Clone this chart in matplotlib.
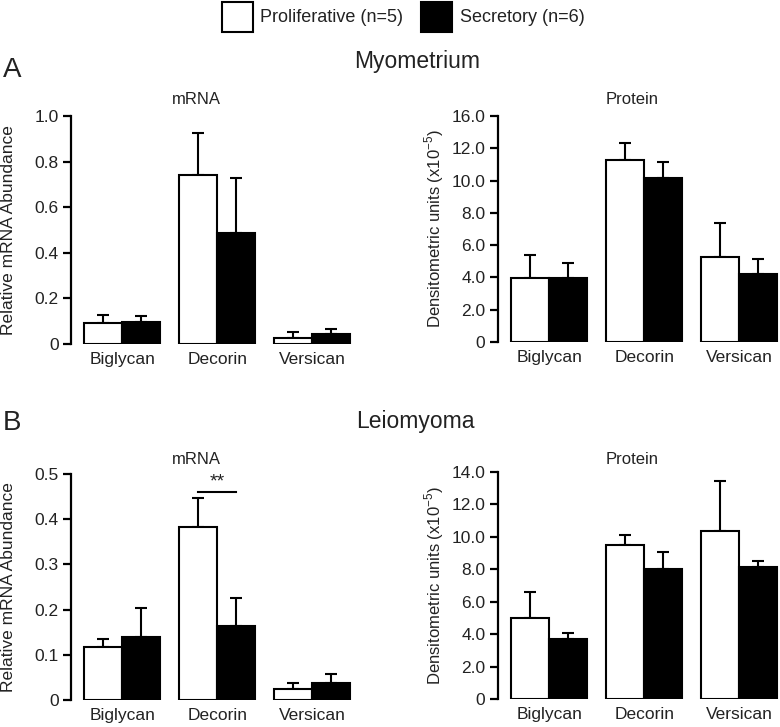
import matplotlib
matplotlib.use("Agg")
import matplotlib.pyplot as plt
from matplotlib.patches import Rectangle
import numpy as np

plt.rcParams['font.family'] = ['Liberation Sans', 'DejaVu Sans']
plt.rcParams['mathtext.fontset'] = 'custom'
plt.rcParams['mathtext.rm'] = 'Liberation Sans'
plt.rcParams['text.color'] = '#222222'

genes = ["Biglycan", "Decorin", "Versican"]

# Myometrium
myo_mrna_pro = [0.094, 0.743, 0.026]
myo_mrna_pro_err = [0.032, 0.181, 0.025]
myo_mrna_sec = [0.098, 0.485, 0.044]
myo_mrna_sec_err = [0.025, 0.242, 0.023]

myo_prot_pro = [3.95, 11.26, 5.29]
myo_prot_pro_err = [1.44, 1.07, 2.06]
myo_prot_sec = [3.97, 10.19, 4.24]
myo_prot_sec_err = [0.93, 0.94, 0.92]

# Leiomyoma
lei_mrna_pro = [0.117, 0.382, 0.025]
lei_mrna_pro_err = [0.018, 0.064, 0.012]
lei_mrna_sec = [0.139, 0.163, 0.038]
lei_mrna_sec_err = [0.065, 0.062, 0.020]

lei_prot_pro = [4.97, 9.51, 10.35]
lei_prot_pro_err = [1.61, 0.59, 3.09]
lei_prot_sec = [3.67, 8.04, 8.16]
lei_prot_sec_err = [0.37, 1.03, 0.35]

mrna_ticks = [0, 0.2, 0.4, 0.6, 0.8, 1.0]
mrna_labels = ["0", "0.2", "0.4", "0.6", "0.8", "1.0"]
myo_prot_ticks = [0, 2, 4, 6, 8, 10, 12, 14]
myo_prot_labels = ["0", "2.0", "4.0", "6.0", "8.0", "10.0", "12.0", "16.0"]
lei_mrna_ticks = [0, 0.1, 0.2, 0.3, 0.4, 0.5]
lei_mrna_labels = ["0", "0.1", "0.2", "0.3", "0.4", "0.5"]
lei_prot_ticks = [0, 2, 4, 6, 8, 10, 12, 14]
lei_prot_labels = ["0", "2.0", "4.0", "6.0", "8.0", "10.0", "12.0", "14.0"]

W, H = 780, 727
fig = plt.figure(figsize=(7.8, 7.27), dpi=100)


def px_axes(l, r, top, bot):
    return fig.add_axes([l / W, 1 - bot / H, (r - l) / W, (bot - top) / H])


def panel(ax, pro, pro_err, sec, sec_err, ticks, labels):
    x = np.arange(len(genes))
    w = 0.4
    ax.bar(x - w / 2, pro, w, color='white', edgecolor='black', linewidth=1.5, zorder=3)
    ax.bar(x + w / 2, sec, w, color='black', edgecolor='black', linewidth=1.5, zorder=3)
    ax.errorbar(x - w / 2, pro, yerr=[np.zeros(3), pro_err], fmt='none', ecolor='black',
                elinewidth=1.5, capsize=4.5, capthick=1.5, zorder=2)
    ax.errorbar(x + w / 2, sec, yerr=[np.zeros(3), sec_err], fmt='none', ecolor='black',
                elinewidth=1.5, capsize=4.5, capthick=1.5, zorder=2)
    ax.set_xlim(-0.54, 2.44)
    ax.set_ylim(ticks[0], ticks[-1])
    ax.set_yticks(ticks)
    ax.set_yticklabels(labels)
    ax.set_xticks(x)
    ax.set_xticklabels(genes, fontsize=12.5)
    for s in ['top', 'right', 'bottom']:
        ax.spines[s].set_visible(False)
    ax.spines['left'].set_linewidth(1.6)
    ax.tick_params(axis='y', direction='out', length=6, width=1.6, labelsize=12.5,
                   labelcolor='#222222', pad=3)
    ax.tick_params(axis='x', length=0, pad=6, labelcolor='#222222')
    ax.patch.set_visible(False)


ax1 = px_axes(71, 354, 116, 344)
panel(ax1, myo_mrna_pro, myo_mrna_pro_err, myo_mrna_sec, myo_mrna_sec_err, mrna_ticks, mrna_labels)
ax2 = px_axes(498, 781, 116, 342)
panel(ax2, myo_prot_pro, myo_prot_pro_err, myo_prot_sec, myo_prot_sec_err, myo_prot_ticks, myo_prot_labels)
ax3 = px_axes(71, 354, 474, 700)
panel(ax3, lei_mrna_pro, lei_mrna_pro_err, lei_mrna_sec, lei_mrna_sec_err, lei_mrna_ticks, lei_mrna_labels)
ax4 = px_axes(498, 781, 472, 699)
panel(ax4, lei_prot_pro, lei_prot_pro_err, lei_prot_sec, lei_prot_sec_err, lei_prot_ticks, lei_prot_labels)

# significance marker on leiomyoma decorin
ax3.plot([0.8, 1.2], [0.46, 0.46], color='black', lw=1.5)
ax3.text(1.0, 0.463, "**", ha='center', va='bottom', fontsize=14)


def ftext(x, y, s, **kw):
    fig.text(x / W, 1 - y / H, s, **kw)


# y labels
ftext(9, 230, "Relative mRNA Abundance", rotation=90, ha='center', va='center', fontsize=12.5)
ftext(9, 587, "Relative mRNA Abundance", rotation=90, ha='center', va='center', fontsize=12.5)
ylab = r"Densitometric units (x10$^{\mathregular{-5}}$)"
ftext(434, 229, ylab, rotation=90, ha='center', va='center', fontsize=12)
ftext(434, 586, ylab, rotation=90, ha='center', va='center', fontsize=12)

# panel titles
ftext(196, 99, "mRNA", ha='center', va='center', fontsize=12)
ftext(632, 99, "Protein", ha='center', va='center', fontsize=12)
ftext(196, 459, "mRNA", ha='center', va='center', fontsize=12)
ftext(632, 459, "Protein", ha='center', va='center', fontsize=12)

# section headings
ftext(417, 68, "Myometrium", ha='center', va='baseline', fontsize=16.5)
ftext(415, 428, "Leiomyoma", ha='center', va='baseline', fontsize=16.5)
ftext(3, 77, "A", ha='left', va='baseline', fontsize=20)
ftext(3, 430, "B", ha='left', va='baseline', fontsize=20)

# legend
fig.add_artist(Rectangle((222 / W, 1 - 32 / H), 31 / W, 30 / H, transform=fig.transFigure,
                         facecolor='white', edgecolor='black', linewidth=1.5))
fig.add_artist(Rectangle((421 / W, 1 - 32 / H), 31 / W, 30 / H, transform=fig.transFigure,
                         facecolor='black', edgecolor='black', linewidth=1.5))
ftext(260, 17, "Proliferative (n=5)", ha='left', va='center', fontsize=13)
ftext(460, 17, "Secretory (n=6)", ha='left', va='center', fontsize=13)

fig.savefig("out.png", dpi=100)
